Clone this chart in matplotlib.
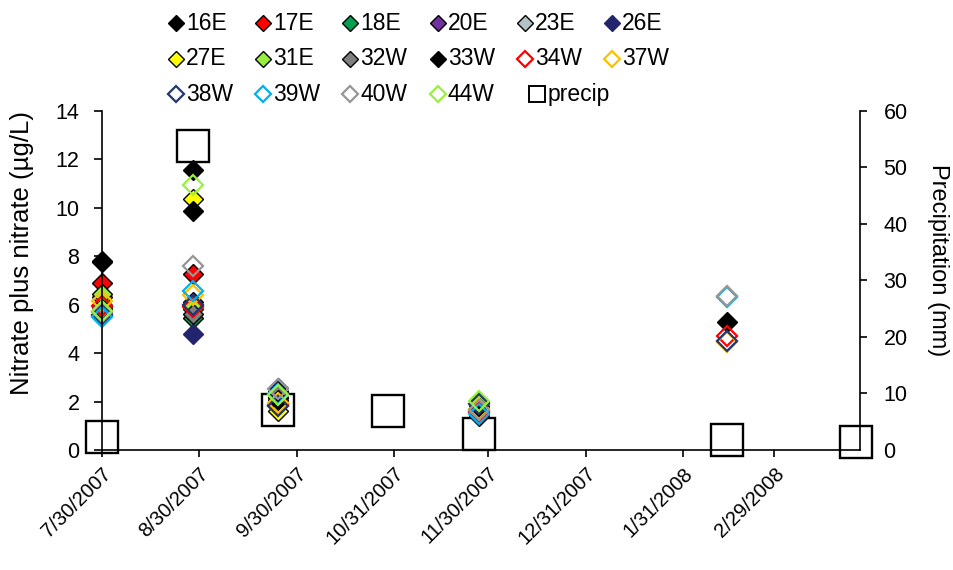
import matplotlib
matplotlib.use('Agg')
import matplotlib.pyplot as plt
from matplotlib.lines import Line2D
import numpy as np
import pandas as pd

plt.rcParams['font.family'] = ['Liberation Sans', 'DejaVu Sans']

nan = np.nan
# ---------------- data ----------------
sample_dates = ['2007-07-30', '2007-08-28', '2007-09-24', '2007-11-27', '2008-02-14']

s16E = [7.80, 11.55, 2.00, 1.75, nan]
s17E = [6.90, 7.25, 1.90, 1.60, nan]
s18E = [5.70, 5.45, 2.20, 1.62, nan]
s20E = [6.00, 6.10, 2.45, 1.80, nan]
s23E = [5.90, 5.80, 2.35, 1.40, nan]
s26E = [5.60, 4.80, 2.55, 1.55, nan]
s27E = [6.30, 10.35, 1.60, 1.50, nan]
s31E = [6.45, 6.00, 2.15, 1.97, nan]
s32W = [5.80, 5.60, 2.40, 1.68, nan]
s33W = [7.75, 9.85, 2.05, 1.72, 5.30]
s34W = [5.95, 5.90, 1.85, 1.58, 4.70]
s37W = [6.15, 6.40, 1.95, 1.70, 4.45]
s38W = [5.55, 6.00, 1.80, 1.90, 4.50]
s39W = [5.50, 6.55, 2.30, 1.50, 6.32]
s40W = [5.70, 7.60, 2.50, 1.65, 6.35]
s44W = [5.75, 10.95, 2.25, 2.02, nan]

precip_dates = ['2007-07-30', '2007-08-28', '2007-09-24', '2007-10-29',
                '2007-11-27', '2008-02-14', '2008-03-26']
precip_mm = [2.3, 53.8, 7.0, 6.9, 2.8, 1.8, 1.5]

tick_dates = ['2007-07-30', '2007-08-30', '2007-09-30', '2007-10-31',
              '2007-11-30', '2007-12-31', '2008-01-31', '2008-02-29']
tick_labels = ['7/30/2007', '8/30/2007', '9/30/2007', '10/31/2007',
               '11/30/2007', '12/31/2007', '1/31/2008', '2/29/2008']

series_names = ['16E', '17E', '18E', '20E', '23E', '26E', '27E', '31E',
                '32W', '33W', '34W', '37W', '38W', '39W', '40W', '44W']
series_values = [s16E, s17E, s18E, s20E, s23E, s26E, s27E, s31E,
                 s32W, s33W, s34W, s37W, s38W, s39W, s40W, s44W]

# style: (face, edge, filled)
styles = {
    '16E': ('#000000', '#000000', True),
    '17E': ('#ff0000', '#000000', True),
    '18E': ('#00a050', '#000000', True),
    '20E': ('#7030a0', '#000000', True),
    '23E': ('#b4c2c4', '#000000', True),
    '26E': ('#22246e', '#22246e', True),
    '27E': ('#ffff00', '#000000', True),
    '31E': ('#99ee44', '#000000', True),
    '32W': ('#808080', '#000000', True),
    '33W': ('#000000', '#000000', True),
    '34W': ('none', '#ff0000', False),
    '37W': ('none', '#ffc000', False),
    '38W': ('none', '#1f3870', False),
    '39W': ('none', '#00b0f0', False),
    '40W': ('none', '#969696', False),
    '44W': ('none', '#99f040', False),
}

W, H = 954, 570
fig = plt.figure(figsize=(W / 100, H / 100), dpi=100)
L, R, T, B = 101.7, 860, 110.7, 450
ax = fig.add_axes([L / W, 1 - B / H, (R - L) / W, (B - T) / H])
ax2 = ax.twinx()
ax.set_zorder(ax2.get_zorder() + 1)
ax.patch.set_visible(False)

sd = pd.to_datetime(sample_dates)
for name, vals in zip(series_names, series_values):
    fc, ec, filled = styles[name]
    ax.plot(sd, vals, linestyle='none', marker='D', markersize=10.5,
            markerfacecolor=fc, markeredgecolor=ec,
            markeredgewidth=1.0 if filled else 1.6, clip_on=False)

pdts = pd.to_datetime(precip_dates)
ax2.plot(pdts, precip_mm, linestyle='none', marker='s', markersize=23.5,
         markerfacecolor='white', markeredgecolor='black',
         markeredgewidth=1.7, clip_on=False)

xmin = pd.Timestamp('2007-07-30')
xmax = pd.Timestamp('2008-03-27') + pd.Timedelta(hours=7)
ax.set_xlim(xmin, xmax)
ax.set_ylim(0, 14)
ax2.set_ylim(0, 60)
ax.set_yticks(np.arange(0, 15, 2))
ax2.set_yticks(np.arange(0, 61, 10))
ax.set_xticks(pd.to_datetime(tick_dates))
ax.set_xticklabels(tick_labels, rotation=45, ha='right', rotation_mode='anchor')

for a in (ax, ax2):
    a.spines['top'].set_visible(False)
    for s in a.spines.values():
        s.set_linewidth(1.2)
ax.spines['right'].set_visible(False)
ax2.spines['left'].set_visible(False)
ax2.spines['bottom'].set_visible(False)

ax.tick_params(axis='y', direction='out', length=6, width=1.2,
               labelsize=15.5, pad=10)
ax.tick_params(axis='x', direction='out', length=5, width=1.2,
               labelsize=14.5, pad=5)
ax2.tick_params(axis='y', direction='out', length=5, width=1.2,
                labelsize=15.5, pad=12)

# axis titles
fig.text(22 / W, 1 - 253 / H, 'Nitrate plus nitrate (µg/L)', fontsize=18.5,
         rotation=90, ha='center', va='center')
fig.text(938 / W, 1 - 260 / H, 'Precipitation (mm)', fontsize=17,
         rotation=-90, ha='center', va='center')

# legend laid out row-major in a uniform grid (like the original)
entries = []
for name in series_names:
    fc, ec, filled = styles[name]
    entries.append((name, 'D', 8.5, fc, ec, 1.0 if filled else 1.6, 0))
entries.append(('precip', 's', 11, 'white', 'black', 1.4, 12))
ncol = 6
x0, y0, dx, dy = 176, 23, 87.2, 35.5
for i, (lab, mk, ms, fc, ec, mew, off) in enumerate(entries):
    r, c = divmod(i, ncol)
    xp = (x0 + c * dx + off) / W
    yp = 1 - (y0 + r * dy) / H
    fig.add_artist(Line2D([xp], [yp], transform=fig.transFigure,
                          linestyle='none', marker=mk, markersize=ms,
                          markerfacecolor=fc, markeredgecolor=ec,
                          markeredgewidth=mew))
    fig.text(xp + (10 if mk == 'D' else 11) / W, yp, lab, fontsize=16.5,
             va='center', ha='left')

fig.savefig('out.png', dpi=100)
